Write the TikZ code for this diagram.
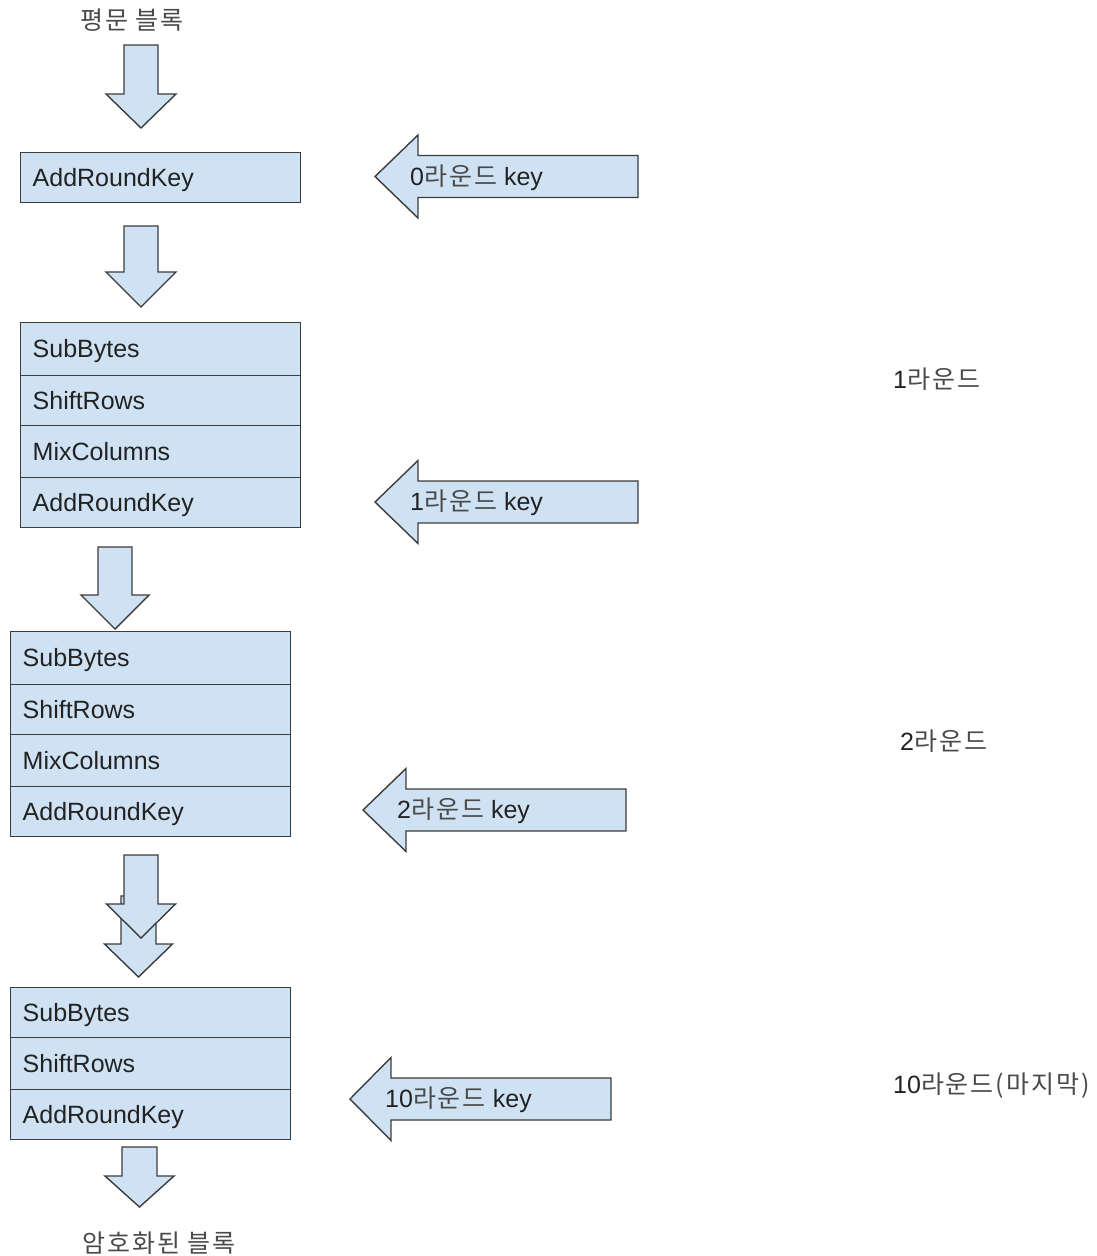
\documentclass[tikz,border=0pt]{standalone}
\usepackage{fontspec}
\setmainfont{Liberation Sans}
\newfontfamily\kr[LetterSpace=8]{Noto Sans CJK KR}
\definecolor{boxfill}{HTML}{CFE2F3}
\definecolor{boxline}{HTML}{3C3C3C}
\definecolor{txt}{HTML}{222222}
\definecolor{krtxt}{HTML}{4A4A4A}
% down-pointing block arrow: centre x, shaft half width, head half width, top, head base, tip
\newcommand\blockdown[6]{%
  \filldraw[blockarrow] (#1-#2,-#4) -- (#1+#2,-#4) -- (#1+#2,-#5) -- (#1+#3,-#5)
    -- (#1,-#6) -- (#1-#3,-#5) -- (#1-#2,-#5) -- cycle;}
% left-pointing block arrow: tip x, centre y, head base x, right end x
\newcommand\blockleft[4]{%
  \filldraw[blockarrow] (#4,-#2+21) -- (#3,-#2+21) -- (#3,-#2+41.5) -- (#1,-#2)
    -- (#3,-#2-41.5) -- (#3,-#2-21) -- (#4,-#2-21) -- cycle;}
\newcommand\krs[1]{{\kr\color{krtxt}#1}}
\begin{document}
\begin{tikzpicture}[x=1pt,y=1pt,
  blockarrow/.style={fill=boxfill,draw=boxline,line width=1.4pt,line join=miter},
  row/.style={draw=boxline,fill=boxfill,line width=1.4pt,anchor=north west,
    text width=256pt,inner xsep=12pt,inner ysep=0pt,align=left,
    text height=20pt,text depth=3pt,text=txt,font=\fontsize{25}{30}\selectfont},
  lbl/.style={inner sep=0pt,text=txt,font=\fontsize{25}{30}\selectfont},
]
\useasboundingbox (0,0) rectangle (1096,-1256);

% input and output labels
\node[lbl] (plain) at (132,-20) {\krs{평문 블록}};
\node[lbl] (cipher) at (159,-1243) {\krs{암호화된 블록}};

% flow arrows
\blockdown{141}{17}{35}{45}{94}{128}
\blockdown{141}{17}{35}{226}{272}{307}
\blockdown{115}{17}{34}{547}{595}{629}
\blockdown{138.5}{17.5}{34}{896}{944}{977}
\blockdown{141}{17}{34.5}{855}{904}{938}
\blockdown{139.5}{17.5}{34.5}{1147}{1176}{1207}

% initial key addition
\node[row,minimum height=50pt] (ark0) at (20,-152) {AddRoundKey};

% round 1
\node[row,minimum height=53pt] (sb1) at (20,-322) {SubBytes};
\node[row,minimum height=50pt] (sr1) at (20,-375) {ShiftRows};
\node[row,minimum height=52pt] (mc1) at (20,-425) {MixColumns};
\node[row,minimum height=50pt] (ark1) at (20,-477) {AddRoundKey};

% round 2
\node[row,minimum height=53pt] (sb2) at (10,-631) {SubBytes};
\node[row,minimum height=50pt] (sr2) at (10,-684) {ShiftRows};
\node[row,minimum height=52pt] (mc2) at (10,-734) {MixColumns};
\node[row,minimum height=50pt] (ark2) at (10,-786) {AddRoundKey};

% final round
\node[row,minimum height=50pt] (sb10) at (10,-987) {SubBytes};
\node[row,minimum height=52pt] (sr10) at (10,-1037) {ShiftRows};
\node[row,minimum height=50pt] (ark10) at (10,-1089) {AddRoundKey};

% round keys
\blockleft{375}{176.5}{418}{638}
\node[lbl,anchor=west] (k0) at (410,-178) {0\krs{라운드} key};
\blockleft{375}{502}{418}{638}
\node[lbl,anchor=west] (k1) at (410,-503) {1\krs{라운드} key};
\blockleft{363}{810}{406}{626}
\node[lbl,anchor=west] (k2) at (397,-811) {2\krs{라운드} key};
\blockleft{350}{1099}{391}{611}
\node[lbl,anchor=west] (k10) at (385,-1100) {10\krs{라운드} key};

% round labels
\node[lbl,anchor=west] (r1) at (893,-379) {1\krs{라운드}};
\node[lbl,anchor=west] (r2) at (900,-741) {2\krs{라운드}};
\node[lbl,anchor=west] (r10) at (893,-1086) {10\krs{라운드(마지막)}};
\end{tikzpicture}
\end{document}
